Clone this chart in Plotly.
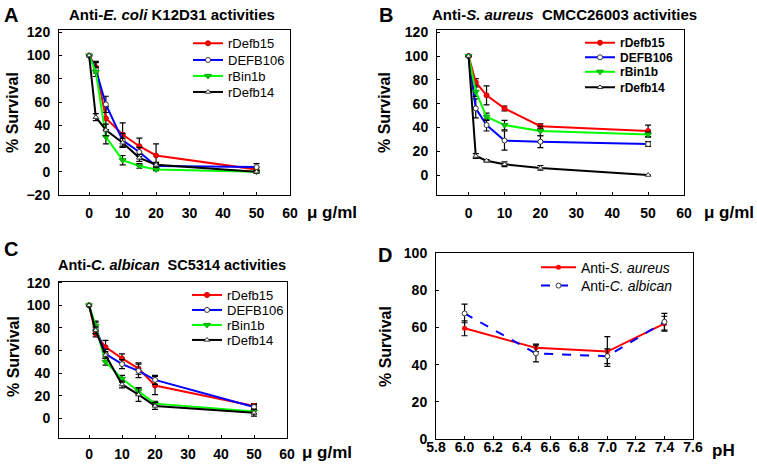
import plotly.graph_objects as go

W, H = 757, 470

# ---------------- data ----------------
conc_A = [0, 2, 5, 10, 15, 20, 50]
A_rDefb15 = [100, 90, 46, 32, 22, 14, 2]
A_rDefb15_err = [0, 5, 10, 10, 7, 10, 2]
A_DEFB106 = [100, 88, 58, 27, 17, 5, 4]
A_DEFB106_err = [0, 6, 7, 6, 4, 2, 3]
A_rBin1b = [100, 86, 30, 10, 5, 2, 0]
A_rBin1b_err = [0, 4, 6, 4, 2, 1, 1]
A_rDefb14 = [100, 47, 36, 25, 12, 6, 0]
A_rDefb14_err = [0, 3, 5, 4, 3, 2, 1]

conc_B = [0, 2, 5, 10, 20, 50]
B_rDefb15 = [100, 78, 67, 56, 41, 37]
B_rDefb15_err = [0, 3, 8, 2, 2, 5]
B_DEFB106 = [100, 56, 42, 29, 28, 26]
B_DEFB106_err = [0, 8, 5, 8, 5, 2]
B_rBin1b = [100, 70, 49, 42, 37, 34]
B_rBin1b_err = [0, 4, 3, 4, 4, 2]
B_rDefb14 = [100, 16, 12, 9, 6, 0]
B_rDefb14_err = [0, 2, 1, 2, 2, 0]

conc_C = [0, 2, 5, 10, 15, 20, 50]
C_rDefb15 = [100, 75, 63, 53, 44, 29, 11]
C_rDefb15_err = [0, 3, 6, 4, 5, 8, 2]
C_DEFB106 = [100, 80, 57, 48, 42, 34, 10]
C_DEFB106_err = [0, 5, 4, 4, 6, 4, 2]
C_rBin1b = [100, 82, 50, 35, 24, 13, 6]
C_rBin1b_err = [0, 4, 3, 3, 3, 2, 2]
C_rDefb14 = [100, 78, 56, 30, 21, 11, 5]
C_rDefb14_err = [0, 3, 3, 3, 6, 3, 3]

ph_D = [6.0, 6.5, 7.0, 7.4]
D_saureus = [59.5, 49, 47, 62]
D_saureus_err = [4, 2, 8, 4]
D_calbican = [67.5, 46, 44.5, 63]
D_calbican_err = [5, 4.5, 4, 4.5]

series_names = ["rDefb15", "DEFB106", "rBin1b", "rDefb14"]
yticks_A = [-20, 0, 20, 40, 60, 80, 100, 120]
yticks_BC = [0, 20, 40, 60, 80, 100, 120]
xticks_conc = [0, 10, 20, 30, 40, 50, 60]
yticks_D = [0, 20, 40, 60, 80, 100]
xticks_D = [5.8, 6.0, 6.2, 6.4, 6.6, 6.8, 7.0, 7.2, 7.4, 7.6]

# ---------------- styles ----------------
styles = [
    dict(color="#FF0000", marker=dict(symbol="circle", size=5, color="#FF0000", line=dict(color="#CC0000", width=1))),
    dict(color="#0000FF", marker=dict(symbol="circle", size=5, color="white", line=dict(color="#333333", width=1))),
    dict(color="#00FF00", marker=dict(symbol="triangle-down", size=6, color="#00CC00", line=dict(color="#00AA00", width=1))),
    dict(color="#000000", marker=dict(symbol="triangle-up", size=5, color="white", line=dict(color="#333333", width=1))),
]

FONT = "Liberation Sans, Arial, sans-serif"
fig = go.Figure()


def px(x):
    return x / W


def py(y):
    return 1 - y / H


# one legend per row so that row spacing matches the reference
legend_defs = []  # (x_px, y_px, font dict, itemwidth)


def new_legend(x, y, font, itemwidth=30):
    legend_defs.append((x, y, font, itemwidth))
    n = len(legend_defs)
    return "legend" if n == 1 else f"legend{n}"


font_A = dict(family=FONT, size=13, color="black")
font_B = dict(family=FONT, size=12, color="black", weight="bold")
font_D = dict(family=FONT, size=14, color="black")


def add_panel(ax, xs, ys_list, errs_list, leg_x, leg_rows, leg_font):
    xa = "x" if ax == 1 else f"x{ax}"
    ya = "y" if ax == 1 else f"y{ax}"
    for i, (ys, er) in enumerate(zip(ys_list, errs_list)):
        st = styles[i]
        lg = new_legend(leg_x, leg_rows[i], leg_font)
        fig.add_trace(go.Scatter(
            x=xs, y=ys, name=series_names[i], mode="lines+markers",
            line=dict(color=st["color"], width=2),
            marker=st["marker"],
            error_y=dict(type="data", array=er, visible=True, color="black",
                         thickness=1.2, width=3),
            xaxis=xa, yaxis=ya, legend=lg,
        ))


add_panel(1, conc_A, [A_rDefb15, A_DEFB106, A_rBin1b, A_rDefb14],
          [A_rDefb15_err, A_DEFB106_err, A_rBin1b_err, A_rDefb14_err],
          188, [43.3, 60, 76, 92], font_A)
add_panel(2, conc_B, [B_rDefb15, B_DEFB106, B_rBin1b, B_rDefb14],
          [B_rDefb15_err, B_DEFB106_err, B_rBin1b_err, B_rDefb14_err],
          580, [42.7, 57.3, 71.7, 87.3], font_B)
add_panel(3, conc_C, [C_rDefb15, C_DEFB106, C_rBin1b, C_rDefb14],
          [C_rDefb15_err, C_DEFB106_err, C_rBin1b_err, C_rDefb14_err],
          187, [295, 310, 325, 340], font_A)

lgD1 = new_legend(536, 267.7, font_D, 35)
fig.add_trace(go.Scatter(
    x=ph_D, y=D_saureus, name="Anti-<i>S. aureus</i>", mode="lines+markers",
    line=dict(color="#FF0000", width=2),
    marker=dict(symbol="circle", size=5, color="#FF0000"),
    error_y=dict(type="data", array=D_saureus_err, color="black", thickness=1.2, width=3),
    xaxis="x4", yaxis="y4", legend=lgD1))
lgD2 = new_legend(536, 286, font_D, 35)
fig.add_trace(go.Scatter(
    x=ph_D, y=D_calbican, name="Anti-<i>C. albican</i>", mode="lines+markers",
    line=dict(color="#0000FF", width=2, dash="dash"),
    marker=dict(symbol="circle", size=5, color="white", line=dict(color="#333333", width=1)),
    error_y=dict(type="data", array=D_calbican_err, color="black", thickness=1.2, width=3),
    xaxis="x4", yaxis="y4", legend=lgD2))


tickfont = dict(family=FONT, size=14, color="black", weight="bold")
axis_common = dict(showline=True, linecolor="black", linewidth=1, mirror=True,
                   ticks="inside", ticklen=3, tickcolor="black", showgrid=False,
                   zeroline=False, tickfont=tickfont, automargin=False)


def xaxis(dom, rng, tickvals, anchor, ticktext=None, standoff=5):
    d = dict(axis_common, domain=dom, range=rng, tickvals=tickvals, anchor=anchor,
             ticklabelstandoff=standoff)
    if ticktext is not None:
        d["ticktext"] = ticktext
    return d


def yaxis(dom, rng, tickvals, anchor):
    return dict(axis_common, domain=dom, range=rng, tickvals=tickvals, anchor=anchor,
                ticklabelstandoff=5)


layout = dict(
    width=W, height=H, margin=dict(l=0, r=0, t=0, b=0, autoexpand=False),
    paper_bgcolor="white", plot_bgcolor="white",
    font=dict(family=FONT, color="black"),
    xaxis=xaxis([px(59), px(290)], [-9, 60], xticks_conc, "y", standoff=5),
    yaxis=yaxis([py(195), py(30)], [-20, 122], yticks_A, "x"),
    xaxis2=xaxis([px(437), px(684)], [-8.8, 60], xticks_conc, "y2", standoff=5),
    yaxis2=yaxis([py(195), py(30)], [-16.8, 121.9], yticks_BC, "x2"),
    xaxis3=xaxis([px(59), px(287)], [-9.1, 60], xticks_conc, "y3", standoff=3),
    yaxis3=yaxis([py(438), py(281.7)], [-17.4, 120.9], yticks_BC, "x3"),
    xaxis4=xaxis([px(436), px(693)], [5.8, 7.6], xticks_D, "y4",
                 ticktext=[f"{v:.1f}" for v in xticks_D], standoff=-5),
    yaxis4=yaxis([py(439), py(253)], [0, 100], yticks_D, "x4"),
    showlegend=True,
)

for k, (lx, ly, lf, iw) in enumerate(legend_defs):
    key = "legend" if k == 0 else f"legend{k + 1}"
    layout[key] = dict(bgcolor="rgba(0,0,0,0)", xanchor="left", yanchor="middle",
                       x=px(lx), y=py(ly), font=lf, itemwidth=iw,
                       itemclick=False, itemdoubleclick=False, tracegroupgap=0)

fig.update_layout(**layout)

ann = []


def text(x, y, t, size, bold=True, angle=0, xanchor="center"):
    ann.append(dict(x=px(x), y=py(y), xref="paper", yref="paper", text=t, showarrow=False,
                    xanchor=xanchor, yanchor="middle", textangle=angle,
                    font=dict(family=FONT, size=size, color="black",
                              weight="bold" if bold else "normal")))


# panel letters
text(11, 15, "A", 20)
text(386, 15, "B", 20)
text(11, 249, "C", 20)
text(385, 255, "D", 20)
# titles
text(172, 15, "Anti-<i>E. coli</i> K12D31 activities", 15)
text(564, 15, "Anti-<i>S. aureus</i>  CMCC26003 activities", 15)
text(172, 265, "Anti-<i>C. albican</i>  SC5314 activities", 14.5)
# y titles
text(13, 113, "% Survival", 16, angle=-90)
text(385, 113, "% Survival", 16, angle=-90)
text(13, 357, "% Survival", 16, angle=-90)
text(385, 347, "% Survival", 16, angle=-90)
# x unit labels
text(305, 212, "μ g/ml", 17, xanchor="left")
text(702, 212, "μ g/ml", 17, xanchor="left")
text(300, 452, "μ g/ml", 17, xanchor="left")
text(710, 450, "pH", 17, xanchor="left")

fig.update_layout(annotations=ann)
fig.write_html(
    "out.html",
    config={"displayModeBar": False},
    post_script="document.body.style.margin='0';document.body.style.padding='0';",
)
